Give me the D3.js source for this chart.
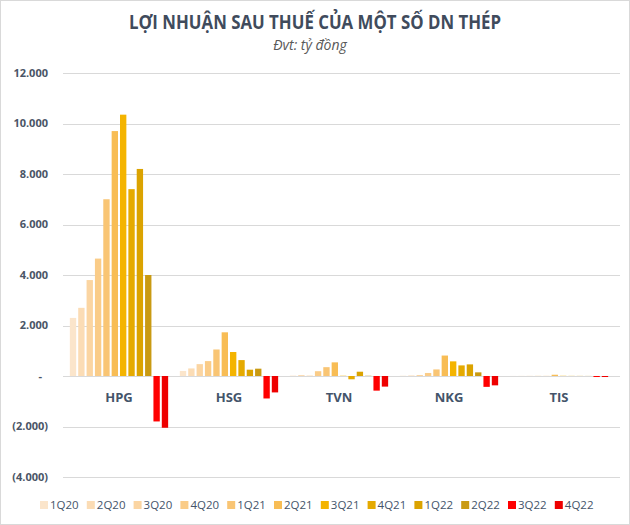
<!DOCTYPE html>
<html>
<head>
<meta charset="utf-8">
<script src="https://cdn.jsdelivr.net/npm/d3@7"></script>
<style>
  body { margin: 0; background: #fff; }
  svg { display: block; font-family: "Open Sans", sans-serif; }
</style>
</head>
<body>
<svg id="chart" width="630" height="525"></svg>
<script>
// values (tỷ đồng)
const companies = ['HPG', 'HSG', 'TVN', 'NKG', 'TIS'];
const quarters = ['1Q20', '2Q20', '3Q20', '4Q20', '1Q21', '2Q21', '3Q21', '4Q21', '1Q22', '2Q22', '3Q22', '4Q22'];
const hpg = [2300, 2700, 3800, 4650, 7000, 9700, 10350, 7400, 8200, 4000, -1800, -2050];
const hsg = [200, 300, 470, 590, 1050, 1730, 950, 630, 250, 290, -890, -650];
const tvn = [15, 40, 15, 190, 350, 540, 10, -130, 170, 10, -580, -420];
const nkg = [10, 20, 40, 120, 260, 810, 580, 420, 460, 145, -430, -370];
const tis = [3, 4, 5, 6, 5, 50, 8, 5, 4, 3, -40, -40];
const yTicks = [-4000, -2000, 0, 2000, 4000, 6000, 8000, 10000, 12000];

const colors = ['#FBE5CB', '#FBDCB5', '#FBD5A2', '#FACC88', '#F9C574', '#F8BD55',
  '#F4B400', '#E5AA00', '#DBA300', '#C99A12', '#FF0000', '#EE0000'];

const table = companies.map((c, i) => ({
  name: c,
  values: [hpg, hsg, tvn, nkg, tis][i]
}));

const svg = d3.select('#chart');

svg.append('rect')
  .attr('x', 0.5).attr('y', 0.5)
  .attr('width', 629).attr('height', 524)
  .attr('fill', '#fff').attr('stroke', '#d9d9d9');

const x = d3.scaleBand().domain(companies).range([64, 614]);
const xq = d3.scaleBand().domain(quarters).range([0, x.bandwidth()])
  .paddingInner(0.24).paddingOuter(0.7);
const y = d3.scaleLinear().domain([-4000, 12000]).range([477, 73]);

const fmt = (v) => {
  if (v === 0) return '-';
  const s = d3.format(',')(Math.abs(v)).replace(/,/g, '.');
  return v < 0 ? '(' + s + ')' : s;
};

// gridlines
svg.append('g')
  .selectAll('line')
  .data(yTicks)
  .join('line')
  .attr('x1', 63).attr('x2', 620)
  .attr('y1', (d) => Math.round(y(d)) + 0.5)
  .attr('y2', (d) => Math.round(y(d)) + 0.5)
  .attr('stroke', '#d9d9d9');

// y labels
svg.append('g')
  .selectAll('text')
  .data(yTicks)
  .join('text')
  .attr('x', (d) => d === 0 ? 42 : 48)
  .attr('y', (d) => y(d))
  .attr('dy', '0.35em')
  .attr('text-anchor', 'end')
  .attr('font-size', 11)
  .attr('font-weight', 700)
  .attr('fill', '#4a5566')
  .text(fmt);

// bars
const groups = svg.append('g')
  .selectAll('g')
  .data(table)
  .join('g')
  .attr('transform', (d) => 'translate(' + x(d.name) + ',0)');

groups.selectAll('rect')
  .data((d) => d.values.map((v, i) => ({q: quarters[i], v: v, i: i})))
  .join('rect')
  .attr('x', (d) => xq(d.q))
  .attr('width', xq.bandwidth())
  .attr('y', (d) => y(Math.max(0, d.v)))
  .attr('height', (d) => Math.abs(y(d.v) - y(0)))
  .attr('fill', (d) => colors[d.i]);

// category labels
svg.append('g')
  .selectAll('text')
  .data(companies)
  .join('text')
  .attr('x', (d) => x(d) + x.bandwidth() / 2)
  .attr('y', 397)
  .attr('dy', '0.35em')
  .attr('text-anchor', 'middle')
  .attr('font-size', 13)
  .attr('font-weight', 700)
  .attr('fill', '#44546A')
  .text((d) => d);

// title
svg.append('text')
  .attr('x', 315).attr('y', 29)
  .attr('text-anchor', 'middle')
  .attr('font-size', 19)
  .attr('font-weight', 700)
  .attr('fill', '#404b5c')
  .attr('textLength', 372)
  .attr('lengthAdjust', 'spacingAndGlyphs')
  .text('LỢI NHUẬN SAU THUẾ CỦA MỘT SỐ DN THÉP');

svg.append('text')
  .attr('x', 310).attr('y', 50)
  .attr('text-anchor', 'middle')
  .attr('font-size', 14)
  .attr('font-style', 'italic')
  .attr('fill', '#595959')
  .text('Đvt: tỷ đồng');

// legend
const legend = svg.append('g')
  .selectAll('g')
  .data(quarters)
  .join('g')
  .attr('transform', (d, i) => 'translate(' + (40 + i * 46.8) + ',505)');

legend.append('rect')
  .attr('x', 0).attr('y', -4)
  .attr('width', 8).attr('height', 8)
  .attr('fill', (d, i) => colors[i]);

legend.append('text')
  .attr('x', 10).attr('y', 0)
  .attr('dy', '0.35em')
  .attr('font-size', 11.5)
  .attr('fill', '#44546A')
  .text((d) => d);
</script>
</body>
</html>
